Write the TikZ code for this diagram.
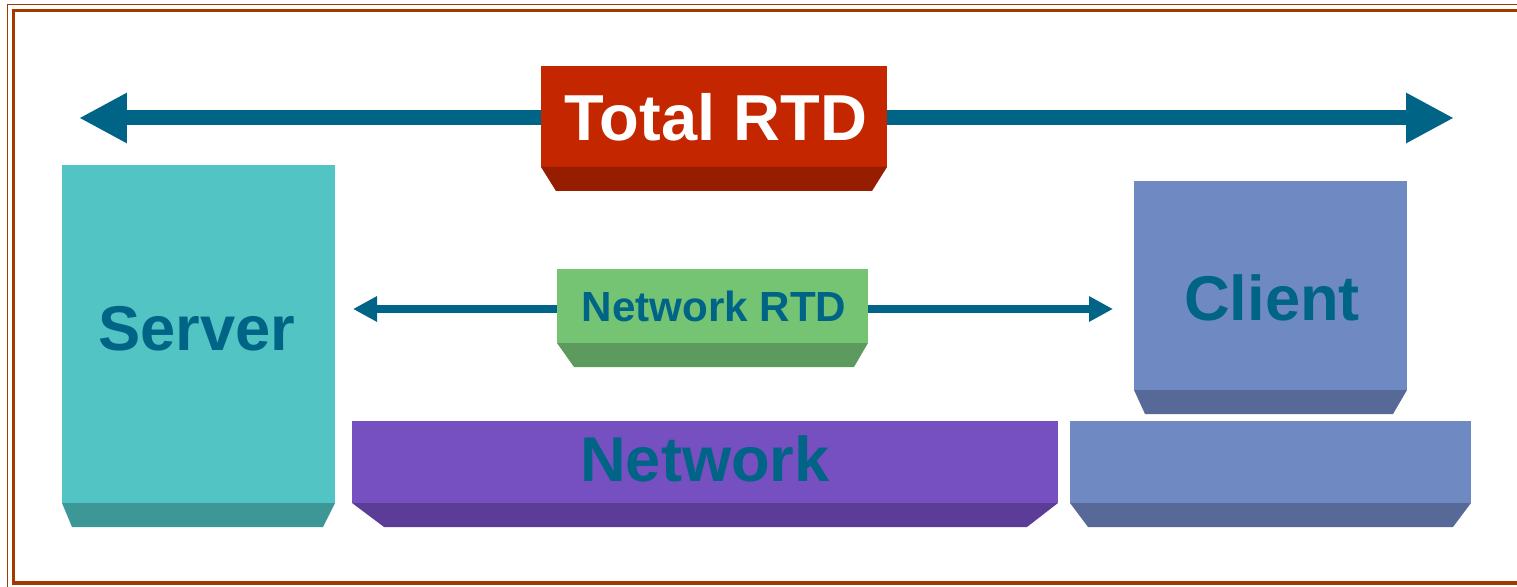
\documentclass[tikz,border=0pt]{standalone}
\usepackage{fontspec}
\setmainfont{Liberation Sans}
\usetikzlibrary{arrows.meta,fit}

\definecolor{arrowcol}{HTML}{006487}
\definecolor{framecol}{HTML}{A03A00}
\definecolor{srvface}{HTML}{52C4C4}
\definecolor{srvside}{HTML}{3E9797}
\definecolor{netface}{HTML}{764FC0}
\definecolor{netside}{HTML}{5B3C97}
\definecolor{cltface}{HTML}{6F89C3}
\definecolor{cltside}{HTML}{576996}
\definecolor{totface}{HTML}{C42600}
\definecolor{totside}{HTML}{961D00}
\definecolor{nrtface}{HTML}{74C474}
\definecolor{nrtside}{HTML}{5D9A5D}

\tikzset{
  face/.style={inner sep=0pt, outer sep=0pt, fill=#1},
  big/.style={font=\fontsize{36}{40}\selectfont\bfseries, text=arrowcol},
  small/.style={font=\fontsize{24}{28}\selectfont\bfseries, text=arrowcol},
  wide arrow/.style={arrowcol, line width=0.3cm,
    {Triangle[length=0.96cm,width=0.94cm]}-{Triangle[length=0.96cm,width=0.94cm]}},
  thin arrow/.style={arrowcol, line width=0.16cm,
    {Triangle[length=0.48cm,width=0.48cm]}-{Triangle[length=0.48cm,width=0.48cm]}}
}

% bevel under a face: node, colour, left inset, right inset
\newcommand\bevel[4]{%
  \fill[#2] (#1.south west) -- (#1.south east) -- ([shift={(-#4,24)}]#1.south east)
    -- ([shift={(#3,24)}]#1.south west) -- cycle;}

\begin{document}
\begin{tikzpicture}[x=0.02cm,y=-0.02cm]
	\useasboundingbox (0,0) rectangle (1517,587);
	\clip (0,0) rectangle (1517,587);

	%frame
	\draw[framecol, line width=0.035cm] (7.5,4.5) rectangle (1545,600);
	\draw[framecol, line width=0.07cm] (13.5,10.5) rectangle (1540,583);

	%arrow ends
	\coordinate (totL) at (79,118);
	\coordinate (totR) at (1454,118);
	\coordinate (nrtL) at (353,309);
	\coordinate (nrtR) at (1113,309);

	%arrows
	\draw[wide arrow] (totL) -- (totR); %total RTD
	\draw[thin arrow] (nrtL) -- (nrtR); %network RTD

	%faces
	\node[face=srvface, fit={(62,165) (335,503)}] (srv) {}; %server
	\node[face=netface, fit={(352,421) (1058,503)}] (net) {}; %network
	\node[face=cltface, fit={(1134,181) (1407,390)}] (clt) {}; %client
	\node[face=cltface, fit={(1070,421) (1471,503)}] (cltbase) {}; %client base
	\node[face=totface, fit={(541,66) (887,167)}] (tot) {}; %total RTD
	\node[face=nrtface, fit={(557,269) (868,343)}] (nrt) {}; %network RTD

	%bevels
	\bevel{srv}{srvside}{10}{12}
	\bevel{net}{netside}{32}{31}
	\bevel{clt}{cltside}{11}{14}
	\bevel{cltbase}{cltside}{18}{18}
	\bevel{tot}{totside}{15}{15}
	\bevel{nrt}{nrtside}{17}{14}

	%labels
	\node[big] (srvtxt) at (197,329) {Server};
	\node[big] (nettxt) at (705,459) {Network};
	\node[big] (clttxt) at (1272,298) {Client};
	\node[big, text=white, font=\fontsize{37}{40}\selectfont\bfseries] (tottxt) at (716,117) {Total RTD};
	\node[small] (nrttxt) at (714,306) {Network RTD};
\end{tikzpicture}
\end{document}
